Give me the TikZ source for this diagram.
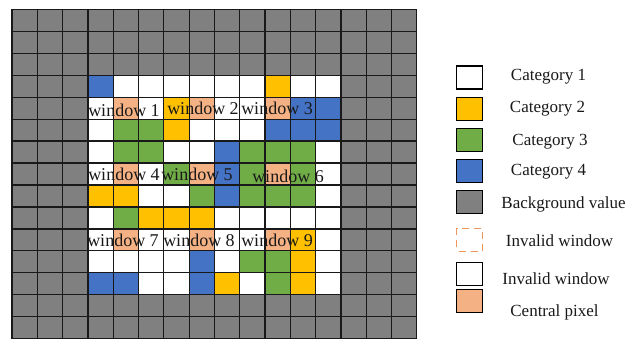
\documentclass[tikz,border=0pt]{standalone}
\usepackage{fontspec}
\setmainfont{Liberation Serif}
\definecolor{bgray}{RGB}{128,128,128}
\definecolor{cyel}{RGB}{255,192,0}
\definecolor{cgreen}{RGB}{112,173,71}
\definecolor{cblue}{RGB}{68,114,196}
\definecolor{csalmon}{RGB}{244,177,131}
\definecolor{cdash}{RGB}{240,150,90}
\tikzset{
  gridline/.style={line width=1.2pt, black!90},
  winlabel/.style={inner sep=0pt, font=\fontsize{18}{18}\selectfont, text=black!90},
  legbox/.style={draw=black, line width=1.2pt, minimum width=25.6pt, minimum height=23pt, inner sep=0pt},
  legtext/.style={inner sep=0pt, font=\fontsize{17}{17}\selectfont, text=black!90}
}
\newcommand{\gcell}[3]{\fill[#3] (#1,#2) rectangle ++(1,1);}
\begin{document}
\begin{tikzpicture}
\useasboundingbox (0,0) rectangle (626pt,-338pt);
\clip (0,0) rectangle (626pt,-338pt);
\begin{scope}[x=25.3pt, y=-21.96pt, shift={(12pt,-9.3pt)}]
  \fill[bgray] (0,0) rectangle (16,15);
  \fill[white] (3,3) rectangle (13,13);
  % blue
  \foreach \c/\r in {3/3, 11/4, 12/4, 10/5, 11/5, 12/5, 8/6, 8/7, 8/8, 7/11, 3/12, 4/12, 7/12}
    {\gcell{\c}{\r}{cblue}}
  % yellow
  \foreach \c/\r in {10/3, 6/4, 6/5, 3/8, 4/8, 5/9, 6/9, 7/9, 11/10, 11/11, 8/12, 11/12}
    {\gcell{\c}{\r}{cyel}}
  % green
  \foreach \c/\r in {4/5, 5/5, 4/6, 5/6, 9/6, 10/6, 11/6, 6/7, 9/7, 11/7, 7/8, 9/8, 10/8, 11/8, 4/9, 9/11, 10/11, 10/12}
    {\gcell{\c}{\r}{cgreen}}
  % salmon centres
  \foreach \c/\r in {4/4, 7/4, 10/4, 4/7, 7/7, 10/7, 4/10, 7/10, 10/10}
    {\gcell{\c}{\r}{csalmon}}
  \foreach \i in {0,...,16} {\draw[gridline] (\i,0) -- (\i,15);}
  \foreach \j in {0,...,15} {\draw[gridline] (0,\j) -- (16,\j);}
\end{scope}
% window labels
\node[winlabel] (w1) at (124pt,-110.5pt) {window 1};
\node[winlabel] (w2) at (203pt,-108.5pt) {window 2};
\node[winlabel] (w3) at (277pt,-108.5pt) {window 3};
\node[winlabel] (w4) at (124pt,-174.5pt) {window 4};
\node[winlabel] (w5) at (197pt,-174.5pt) {window 5};
\node[winlabel] (w6) at (288pt,-176.5pt) {window 6};
\node[winlabel] (w7) at (123pt,-240pt) {window 7};
\node[winlabel] (w8) at (199pt,-240pt) {window 8};
\node[winlabel] (w9) at (277pt,-240pt) {window 9};
% legend
\node[legbox, fill=white] (l1) at (469.5pt,-77.5pt) {};
\node[legbox, fill=cyel] (l2) at (469.5pt,-108.7pt) {};
\node[legbox, fill=cgreen] (l3) at (469.5pt,-139.7pt) {};
\node[legbox, fill=cblue] (l4) at (469.5pt,-171pt) {};
\node[legbox, fill=bgray] (l5) at (469.5pt,-202pt) {};
\node[legbox, draw=cdash, line width=1.4pt, dash pattern=on 7pt off 5pt, dash phase=-2pt, fill=white] (l6) at (469.5pt,-239.7pt) {};
\node[legbox, fill=white] (l7) at (469.5pt,-274.3pt) {};
\node[legbox, fill=csalmon] (l8) at (469.5pt,-301.3pt) {};
\node[legtext] (t1) at (548.5pt,-77pt) {Category 1};
\node[legtext] (t2) at (547.5pt,-109pt) {Category 2};
\node[legtext] (t3) at (550pt,-142pt) {Category 3};
\node[legtext] (t4) at (548.5pt,-171.5pt) {Category 4};
\node[legtext] (t5) at (563.5pt,-204.5pt) {Background value};
\node[legtext] (t6) at (559.5pt,-240.5pt) {Invalid window};
\node[legtext] (t7) at (556pt,-278.5pt) {Invalid window};
\node[legtext] (t8) at (554.5pt,-312.5pt) {Central pixel};
\end{tikzpicture}
\end{document}
